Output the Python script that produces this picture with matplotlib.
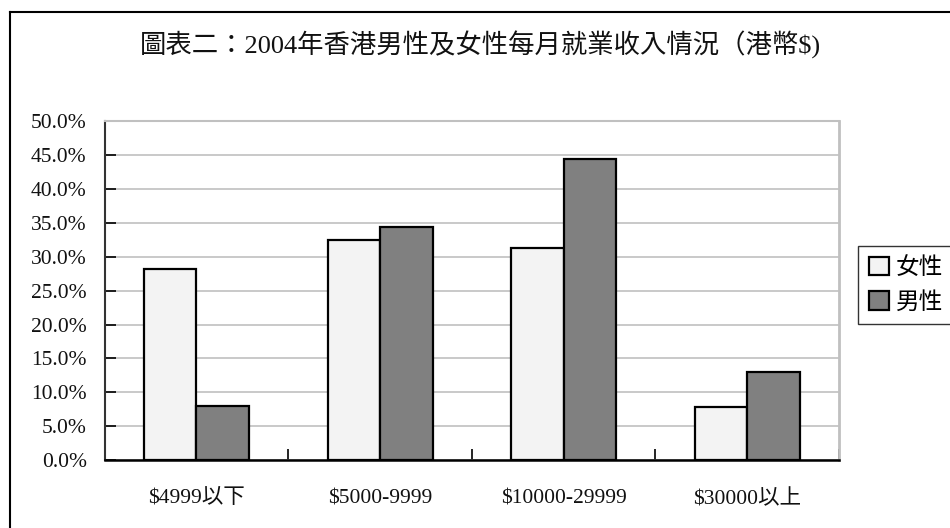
import matplotlib
matplotlib.use("Agg")
import matplotlib.pyplot as plt
import numpy as np
from matplotlib.patches import Patch
from matplotlib.lines import Line2D

categories = ["$4999以下", "$5000-9999", "$10000-29999", "$30000以上"]
female = [28.2, 32.5, 31.3, 7.8]
male = [7.9, 34.4, 44.4, 13.0]
series_names = ["女性", "男性"]
title = "圖表二：2004年香港男性及女性每月就業收入情況（港幣$)"
yticks = [0, 5, 10, 15, 20, 25, 30, 35, 40, 45, 50]

FAM = ["Liberation Serif", "Noto Sans CJK TC"]
plt.rcParams["font.family"] = FAM

fig = plt.figure(figsize=(9.5, 5.28), dpi=100)
W, H = 950, 528
ax = fig.add_axes([104.7 / W, 1 - 460 / H, (839 - 104.7) / W, (460 - 121.3) / H])

x = np.arange(len(categories))
bw = 0.2857
ax.bar(x - bw / 2, female, bw, color="#f3f3f3", edgecolor="black", linewidth=1.6, zorder=3)
ax.bar(x + bw / 2, male, bw, color="#808080", edgecolor="black", linewidth=1.6, zorder=3)

ax.set_xlim(-0.5, len(categories) - 0.5)
ax.set_ylim(0, 50)
ax.set_yticks(yticks)
ax.set_yticklabels([f"{v:.1f}%" for v in yticks], fontsize=15.5, color="#111111")
ax.yaxis.grid(True, color="#c0c0c0", linewidth=1.2, zorder=0)
ax.set_axisbelow(True)

ax.set_xticks(np.arange(len(categories) + 1) - 0.5)
ax.set_xticklabels([])
ax.set_xticks(x, minor=True)
ax.set_xticklabels(categories, minor=True, fontsize=15.5, color="#111111")
ax.tick_params(axis="x", which="major", direction="in", length=8, width=1.2)
ax.tick_params(axis="x", which="minor", length=0, pad=21)
ax.tick_params(axis="y", direction="in", length=8, width=1.2, pad=13)

ax.spines["left"].set_color("#333333")
ax.spines["left"].set_linewidth(1.5)
ax.spines["bottom"].set_color("black")
ax.spines["bottom"].set_linewidth(1.8)
ax.spines["right"].set_color("#c0c0c0")
ax.spines["right"].set_linewidth(2)
ax.spines["top"].set_color("#c0c0c0")
ax.spines["top"].set_linewidth(1.5)

fig.text(480 / W, 1 - 45 / H, title, fontsize=19, ha="center", va="center", color="#111111")

handles = [Patch(facecolor="#f3f3f3", edgecolor="black", linewidth=1.6),
           Patch(facecolor="#808080", edgecolor="black", linewidth=1.6)]
leg = fig.legend(handles, series_names, loc="upper left", bbox_to_anchor=(858 / W, 1 - 246 / H),
                 fontsize=17, frameon=True, fancybox=False, edgecolor="black",
                 handlelength=0.85, handleheight=0.85, handletextpad=0.3,
                 labelspacing=0.5, borderpad=0.45, borderaxespad=0)
leg.get_frame().set_linewidth(1.0)

# outer chart border
fig.add_artist(Line2D([9.5 / W, 9.5 / W], [1 - 12 / H, 0], transform=fig.transFigure, color="black", linewidth=1.5))
fig.add_artist(Line2D([9.5 / W, 1], [1 - 12 / H, 1 - 12 / H], transform=fig.transFigure, color="black", linewidth=1.5))

fig.savefig("out.png", dpi=100)
